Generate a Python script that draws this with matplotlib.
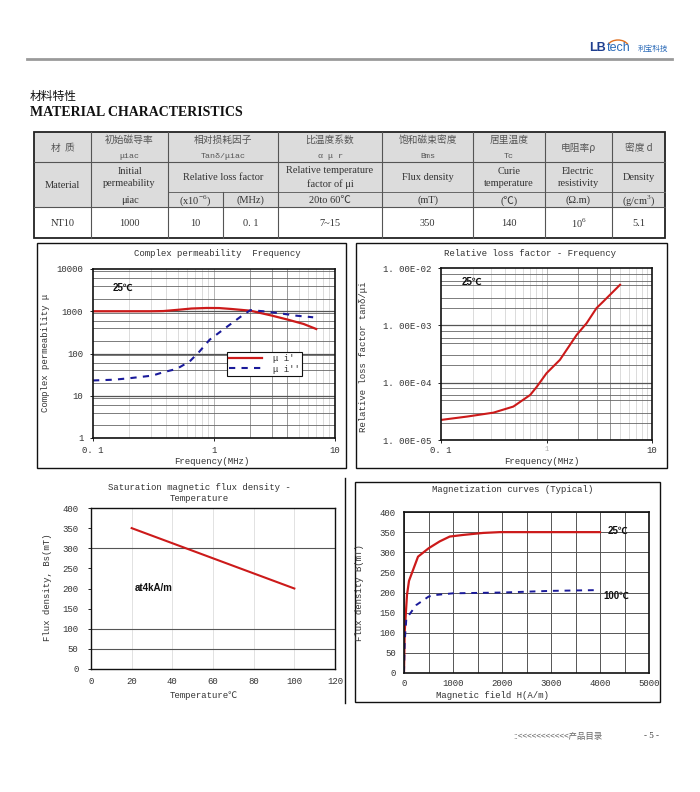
import matplotlib
matplotlib.use('Agg')
import matplotlib.pyplot as plt
from matplotlib.patches import Rectangle, Arc
from matplotlib.ticker import MultipleLocator, NullLocator, FixedLocator

# ---------------- data ----------------
table_cn = ["材  质", "初始磁导率", "相对损耗因子", "比温度系数", "饱和磁束密度", "居里温度", "电阻率ρ", "密度 d"]
table_sym = ["", "μiac", "Tanδ/μiac", "α μ r", "Bms", "Tc", "", ""]
table_en = ["Material", "Initial\npermeability", "Relative loss factor", "Relative temperature\nfactor of μi",
            "Flux density", "Curie\ntemperature", "Electric\nresistivity", "Density"]
table_units = ["μiac", "(x10$^{-6}$)", "(MHz)", "20to 60℃", "(mT)", "(℃)", "(Ω.m)", "(g/cm$^{3}$)"]
table_values = ["NT10", "1000", "10", "0. 1", "7~15", "350", "140", "10$^{6}$", "5.1"]

freq_real = [0.1, 0.2, 0.3, 0.38, 0.5, 0.65, 0.87, 1.1, 1.4, 2.0, 3.0, 4.1, 5.5, 7.0]
mu_real = [1000, 1000, 1000, 1010, 1080, 1160, 1195, 1190, 1130, 1030, 790, 630, 500, 380]
freq_imag = [0.1, 0.15, 0.2, 0.31, 0.38, 0.49, 0.63, 0.76, 0.92, 1.35, 1.75, 2.0, 2.55, 3.7, 4.8, 6.6]
mu_imag = [23, 24, 26, 30, 36, 43, 65, 112, 212, 480, 830, 1060, 1000, 875, 785, 720]

freq_loss = [0.1, 0.176, 0.314, 0.485, 0.70, 0.81, 1.0, 1.34, 1.93, 2.4, 2.98, 3.45, 4.98]
loss = [2.24e-5, 2.56e-5, 3.0e-5, 3.83e-5, 6.1e-5, 8.5e-5, 1.46e-4, 2.5e-4, 6.8e-4, 1.09e-3, 2.0e-3, 2.6e-3, 5.1e-3]

temp = [20, 100]
bs = [350, 200]

h25 = [0, 14, 61, 102, 286, 504, 729, 933, 1206, 1614, 1955, 4000]
b25 = [0, 102, 194, 229, 289, 310, 327, 339, 343, 348, 350, 350]
h100 = [0, 14, 48, 150, 252, 504, 660, 1000, 2023, 2977, 3965]
b100 = [2, 77, 135, 152, 169, 190, 194, 198, 200, 204, 206]

# ---------------- setup ----------------
W, H = 700, 792
MONO = ['Liberation Mono', 'Noto Sans CJK SC']
SERIF = ['Liberation Serif', 'Noto Sans CJK SC']
CJK = ['Noto Sans CJK SC', 'Liberation Serif']
BOLD = ['Liberation Sans', 'Noto Sans CJK SC']
plt.rcParams['font.family'] = MONO
plt.rcParams['mathtext.fontset'] = 'custom'
plt.rcParams['mathtext.rm'] = 'Liberation Serif'
TXT = '#333333'
RED = '#cc1a1a'
BLUE = '#1a1a9a'
FS = 6.5

fig = plt.figure(figsize=(7, 7.92), dpi=100)
fig.patch.set_facecolor('white')


def rect(l, t, r, b):
    return [l / W, 1 - b / H, (r - l) / W, (b - t) / H]


ov = fig.add_axes([0, 0, 1, 1], zorder=0)
ov.set_xlim(0, W)
ov.set_ylim(H, 0)
ov.axis('off')

# ---------------- header ----------------
ov.plot([27, 672], [59, 59], color='#9a9a9a', lw=2)
ov.text(606, 48, "LB", color='#1f3f8f', fontsize=9, fontweight='bold', family=BOLD, va='center', ha='right')
ov.text(607, 48, "tech", color='#2a6ab8', fontsize=9, family=BOLD, va='center', ha='left')
ov.add_patch(Arc((618, 48), 22, 16, theta1=200, theta2=340, color='#e07020', lw=1))
ov.text(638, 48.5, "利宝科技", color='#2a6ab8', fontsize=5.5, family=CJK, va='center', ha='left')

ov.text(30, 96, "材料特性", fontsize=8.5, family=CJK, color='#111', va='center', ha='left')
ov.text(30, 112, "MATERIAL CHARACTERISTICS", fontsize=10, family=SERIF, fontweight='bold',
        color='#111', va='center', ha='left')

# ---------------- table ----------------
xs = [34, 91, 168, 223, 278, 382, 473, 545, 612, 665]
T0, R1, R2, R3, T1 = 132, 162, 192, 207, 238
ov.add_patch(Rectangle((xs[0], T0), xs[-1] - xs[0], R3 - T0, facecolor='#dcdcdc', edgecolor='none'))
for y in (R1, R3):
    ov.plot([xs[0], xs[-1]], [y, y], color='#555', lw=0.8)
ov.plot([xs[2], xs[-1]], [R2, R2], color='#666', lw=0.7)
for i, x in enumerate(xs[1:-1], start=1):
    if i == 3:
        ov.plot([x, x], [R2, T1], color='#555', lw=0.8)
    else:
        ov.plot([x, x], [T0, T1], color='#555', lw=0.8)
ov.add_patch(Rectangle((xs[0], T0), xs[-1] - xs[0], T1 - T0, facecolor='none', edgecolor='#222', lw=1.3))

cx = [(xs[0] + xs[1]) / 2, (xs[1] + xs[2]) / 2, (xs[2] + xs[4]) / 2, (xs[4] + xs[5]) / 2,
      (xs[5] + xs[6]) / 2, (xs[6] + xs[7]) / 2, (xs[7] + xs[8]) / 2, (xs[8] + xs[9]) / 2]
for i in range(8):
    if table_sym[i]:
        ov.text(cx[i], 140, table_cn[i], fontsize=7, family=CJK, color='#555', ha='center', va='center')
        ov.text(cx[i], 156.5, table_sym[i], fontsize=6, family=MONO, color='#555', ha='center', va='center')
    else:
        ov.text(cx[i], 148, table_cn[i], fontsize=7, family=CJK, color='#555', ha='center', va='center')

en_y = [185, 177.5, 177, 177.5, 177, 177.5, 177.5, 177]
for i in range(8):
    ov.text(cx[i], en_y[i], table_en[i], fontsize=7.5, family=SERIF, color=TXT, ha='center', va='center',
            linespacing=1.5)

ucx = [cx[1], (xs[2] + xs[3]) / 2, (xs[3] + xs[4]) / 2, cx[3], cx[4], cx[5], cx[6], cx[7]]
for i in range(8):
    ov.text(ucx[i], 200.5, table_units[i], fontsize=7.5, family=SERIF, color=TXT, ha='center', va='center')

vcx = [cx[0], cx[1], (xs[2] + xs[3]) / 2, (xs[3] + xs[4]) / 2, cx[3], cx[4], cx[5], cx[6], cx[7]]
for i in range(9):
    ov.text(vcx[i], 223, table_values[i], fontsize=7.5, family=SERIF, color=TXT, ha='center', va='center')

# ---------------- chart frames & titles ----------------
ov.add_patch(Rectangle((37, 243), 309, 225, facecolor='none', edgecolor='#111', lw=1))
ov.add_patch(Rectangle((356, 243), 311, 225, facecolor='none', edgecolor='#111', lw=1))
ov.plot([345, 345], [478, 703], color='#111', lw=1)
ov.add_patch(Rectangle((355, 482), 305, 220, facecolor='none', edgecolor='#111', lw=1))

ov.text(217, 253, "Complex permeability  Frequency", fontsize=FS, color=TXT, ha='center', va='center')
ov.text(530, 253, "Relative loss factor - Frequency", fontsize=FS, color=TXT, ha='center', va='center')
ov.text(199, 488, "Saturation magnetic flux density -", fontsize=FS, color=TXT, ha='center', va='center')
ov.text(199, 498.5, "Temperature", fontsize=FS, color=TXT, ha='center', va='center')
ov.text(513, 489, "Magnetization curves (Typical)", fontsize=FS, color=TXT, ha='center', va='center')

ov.text(45, 353, "Complex permeability μ", fontsize=FS, color=TXT, rotation=90, ha='center', va='center')
ov.text(364, 357, "Relative loss factor tanδ/μi", fontsize=FS, color=TXT, rotation=90, ha='center', va='center')
ov.text(48, 587, "Flux density, Bs(mT)", fontsize=FS, color=TXT, rotation=90, ha='center', va='center')
ov.text(360, 593, "Flux density B(mT)", fontsize=FS, color=TXT, rotation=90, ha='center', va='center')

ov.text(212, 461, "Frequency(MHz)", fontsize=FS, color=TXT, ha='center', va='center')
ov.text(542, 461, "Frequency(MHz)", fontsize=FS, color=TXT, ha='center', va='center')
ov.text(204, 695, "Temperature℃", fontsize=FS, color=TXT, ha='center', va='center')
ov.text(492, 695, "Magnetic field H(A/m)", fontsize=FS, color=TXT, ha='center', va='center')

# footer
ov.text(513, 736, "::<<<<<<<<<<<产品目录", fontsize=6, family=CJK, color='#666', ha='left', va='center')
ov.text(652, 736, "- 5 -", fontsize=6.5, family=SERIF, color='#333', ha='center', va='center')


def style_ticks(ax, padx, pady):
    ax.tick_params(axis='x', which='major', direction='out', length=2, width=0.6, labelsize=FS,
                   labelcolor=TXT, pad=padx)
    ax.tick_params(axis='y', which='major', direction='out', length=2, width=0.6, labelsize=FS,
                   labelcolor=TXT, pad=pady)
    ax.tick_params(which='minor', length=0)
    for s in ax.spines.values():
        s.set_color('#111')
        s.set_linewidth(1.2)


def log_grid(ax, xdec, ydec, hmin):
    for d in xdec:
        for m in range(2, 10):
            c = '#888888' if (d == 0 and m in (2, 3, 4)) else '#d6d6d6'
            ax.axvline(m * 10.0 ** d, color=c, lw=0.6, zorder=0)
    for d in xdec[1:]:
        ax.axvline(10.0 ** d, color='#aaaaaa', lw=0.6, zorder=0)
    for d in ydec:
        ax.axhline(10.0 ** d, color='#555555', lw=0.9, zorder=0)
        for m in hmin:
            ax.axhline(m * 10.0 ** d, color='#666666', lw=0.6, zorder=0)


# ---------------- chart 1 ----------------
ax1 = fig.add_axes(rect(93, 269, 335, 438), zorder=2)
ax1.set_xscale('log')
ax1.set_yscale('log')
ax1.set_xlim(0.1, 10)
ax1.set_ylim(1, 10000)
log_grid(ax1, [-1, 0], [0, 1, 2, 3], [2, 4, 6, 9])
l1, = ax1.plot(freq_real, mu_real, color=RED, lw=1.6, label="μ i'")
l2, = ax1.plot(freq_imag, mu_imag, color=BLUE, lw=1.5, ls=(0, (3, 3)), label="μ i''")
ax1.xaxis.set_major_locator(FixedLocator([0.1, 1, 10]))
ax1.set_xticklabels(["0. 1", "1", "10"])
ax1.yaxis.set_major_locator(FixedLocator([1, 10, 100, 1000, 10000]))
ax1.set_yticklabels(["1", "10", "100", "1000", "10000"])
ax1.xaxis.set_minor_locator(NullLocator())
ax1.yaxis.set_minor_locator(NullLocator())
style_ticks(ax1, 4, 5)
ax1.text(0.124, 0.888, "25℃", transform=ax1.transAxes, fontsize=7, fontweight='bold', family=BOLD,
         color='#111', ha='center', va='center')
leg = ax1.legend(handles=[l1, l2], loc='upper left', bbox_to_anchor=(227 / W, 1 - 352 / H),
                 bbox_transform=fig.transFigure, frameon=True, fancybox=False, framealpha=1,
                 edgecolor='#111', fontsize=FS, handlelength=3.6, borderpad=0.25, labelspacing=0.15,
                 handletextpad=1.2, borderaxespad=0)
leg.get_frame().set_linewidth(0.8)
for t in leg.get_texts():
    t.set_color(TXT)

# ---------------- chart 2 ----------------
ax2 = fig.add_axes(rect(441, 268, 652, 440), zorder=2)
ax2.set_xscale('log')
ax2.set_yscale('log')
ax2.set_xlim(0.1, 10)
ax2.set_ylim(1e-5, 1e-2)
log_grid(ax2, [-1, 0], [-5, -4, -3], [2, 3, 5, 6, 8])
ax2.plot(freq_loss, loss, color=RED, lw=1.5)
ax2.xaxis.set_major_locator(FixedLocator([0.1, 1, 10]))
ax2.set_xticklabels(["0. 1", "1", "10"])
ax2.yaxis.set_major_locator(FixedLocator([1e-5, 1e-4, 1e-3, 1e-2]))
ax2.set_yticklabels(["1. 00E-05", "1. 00E-04", "1. 00E-03", "1. 00E-02"])
ax2.xaxis.set_minor_locator(NullLocator())
ax2.yaxis.set_minor_locator(NullLocator())
style_ticks(ax2, 2, 5)
ax2.get_xticklabels()[1].set_color('#aaaaaa')
ax2.get_xticklabels()[1].set_fontsize(5)
ax2.text(0.145, 0.92, "25℃", transform=ax2.transAxes, fontsize=7, fontweight='bold', family=BOLD,
         color='#111', ha='center', va='center')

# ---------------- chart 3 ----------------
ax3 = fig.add_axes(rect(91, 508, 335, 669), zorder=2)
ax3.set_xlim(0, 120)
ax3.set_ylim(0, 400)
for x in (20, 40, 60, 80, 100):
    ax3.axvline(x, color='#dddddd', lw=0.6, zorder=0)
for y in (50, 100, 300):
    ax3.axhline(y, color='#555555', lw=0.8, zorder=0)
ax3.plot(temp, bs, color=RED, lw=1.5)
ax3.xaxis.set_major_locator(MultipleLocator(20))
ax3.yaxis.set_major_locator(MultipleLocator(50))
style_ticks(ax3, 6, 7)
ax3.tick_params(axis='x', length=0)
for s in ax3.spines.values():
    s.set_linewidth(1.0)
ax3.text(0.18, 0.505, "at4kA/m", transform=ax3.transAxes, fontsize=7, fontweight='bold', family=BOLD,
         color='#111', ha='left', va='center')

# ---------------- chart 4 ----------------
ax4 = fig.add_axes(rect(404, 512, 649, 673), zorder=2)
ax4.set_xlim(0, 5000)
ax4.set_ylim(0, 400)
ax4.xaxis.set_major_locator(MultipleLocator(1000))
ax4.xaxis.set_minor_locator(MultipleLocator(500))
ax4.yaxis.set_major_locator(MultipleLocator(50))
ax4.grid(True, which='both', color='#555555', lw=0.7, zorder=0)
ax4.set_axisbelow(True)
ax4.plot(h25, b25, color=RED, lw=1.6)
ax4.plot(h100, b100, color=BLUE, lw=1.4, ls=(0, (3, 3)))
style_ticks(ax4, 4, 6)
ax4.tick_params(axis='both', length=0)
ax4.text(4163, 352, "25℃", fontsize=7, fontweight='bold', family=BOLD, color='#111', ha='left', va='center')
ax4.text(4061, 192, "100℃", fontsize=7, fontweight='bold', family=BOLD, color='#111', ha='left', va='center')

fig.savefig('out.png', dpi=100, facecolor='white')
